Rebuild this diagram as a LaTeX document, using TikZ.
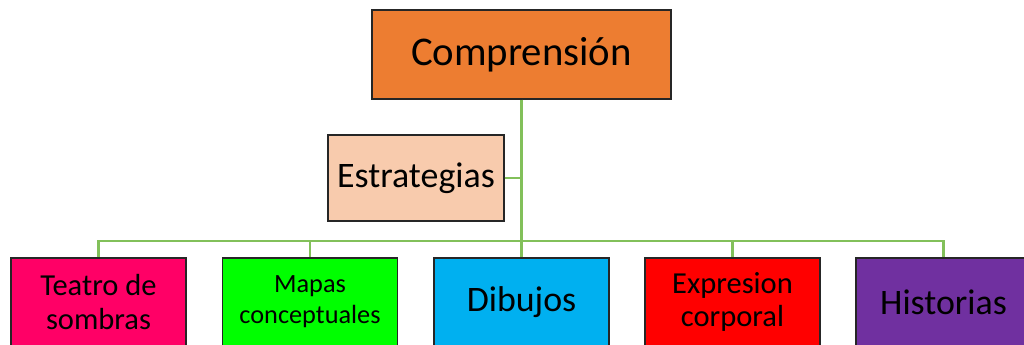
\documentclass[tikz,border=0pt]{standalone}
\usepackage{fontspec}
\setmainfont{Carlito}
\definecolor{compfill}{HTML}{ED7D31}
\definecolor{estrfill}{HTML}{F8CBAD}
\definecolor{teatrofill}{HTML}{FF0066}
\definecolor{mapasfill}{HTML}{00FF00}
\definecolor{dibujofill}{HTML}{00B0F0}
\definecolor{exprfill}{HTML}{FF0000}
\definecolor{histfill}{HTML}{7030A0}
\definecolor{linkgreen}{RGB}{130,192,90}
\definecolor{boxline}{HTML}{262626}
\begin{document}
\begin{tikzpicture}[x=0.025cm,y=-0.025cm,
  box/.style={draw=boxline,line width=1pt,align=center,inner sep=0pt,
              minimum width=4.375cm,minimum height=2.2cm},
  link/.style={linkgreen,line width=1.5pt},
  big/.style={font=\fontsize{25.5}{28}\selectfont},
  mid/.style={font=\fontsize{21.7}{24}\selectfont},
  small/.style={font=\fontsize{18.7}{22}\selectfont}]
  \useasboundingbox (0,0) rectangle (1024,344);
  \clip (0,0) rectangle (1024,344);
  \node[box,fill=compfill,minimum width=7.475cm,minimum height=2.225cm,
        font=\fontsize{29}{32}\selectfont] (comp) at (521.5,54.5) {Comprensión};
  \node[box,big,fill=estrfill,minimum width=4.4cm,minimum height=2.15cm] (estr) at (416,178) {Estrategias};
  \node[box,mid,fill=teatrofill] (teatro) at (98.5,302) {Teatro de\\sombras};
  \node[box,small,fill=mapasfill] (mapas) at (310,302) {Mapas\\conceptuales};
  \node[box,big,fill=dibujofill] (dibujos) at (521.5,302) {Dibujos};
  \node[box,mid,fill=exprfill] (expr) at (732.5,302) {Expresion\\corporal};
  \node[box,big,fill=histfill] (hist) at (943.5,302) {Historias};
  \coordinate (bus) at (521.5,241);
  \draw[link] (comp.south) -- (bus);
  \draw[link] (estr.east) -- (estr.east -| bus);
  \foreach \n in {teatro,mapas,dibujos,expr,hist}
    \draw[link] (bus) -| (\n.north);
\end{tikzpicture}
\end{document}
